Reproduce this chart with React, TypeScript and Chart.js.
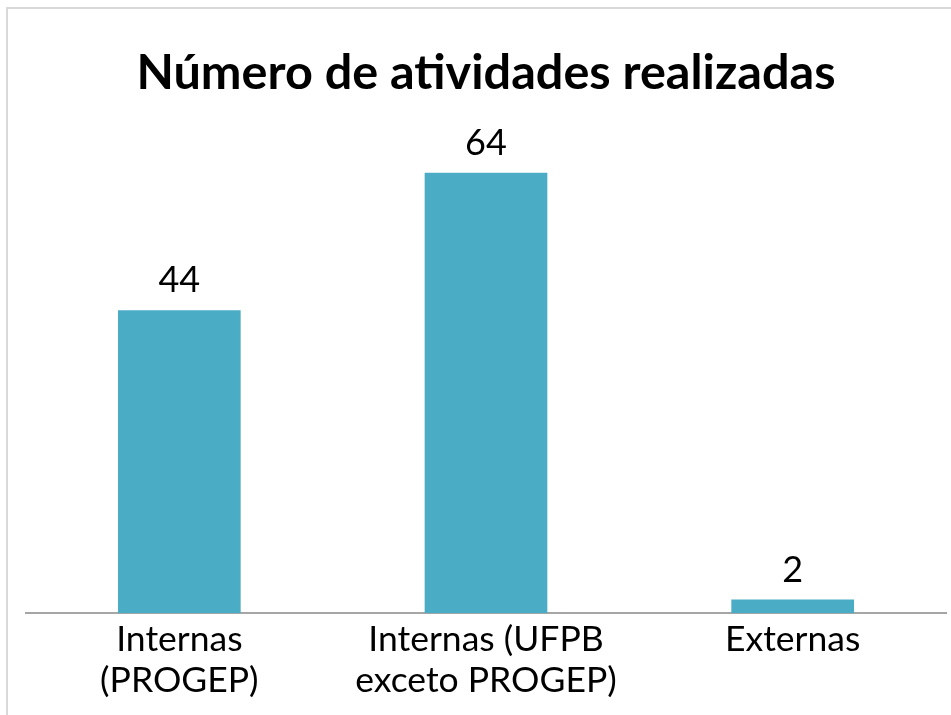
import React, { useEffect, useRef } from "react";
import { Chart, registerables } from "chart.js";

Chart.register(...registerables);

const categories: (string | string[])[] = [
  ["Internas", "(PROGEP)"],
  ["Internas (UFPB", "exceto PROGEP)"],
  "Externas",
];
const values: number[] = [44, 64, 2];
const titleText = "Número de atividades realizadas";
const yMin = 0;
const yMax = 70;

const FONT = "Lato";

const valueLabels = {
  id: "valueLabels",
  afterDatasetsDraw(chart: any) {
    const ctx = chart.ctx;
    const meta = chart.getDatasetMeta(0);
    ctx.save();
    ctx.font = `36px ${FONT}`;
    ctx.fillStyle = "#000";
    ctx.textAlign = "center";
    ctx.textBaseline = "alphabetic";
    meta.data.forEach((bar: any, i: number) => {
      ctx.fillText(String(values[i]), bar.x, bar.y - 18);
    });
    ctx.restore();
  },
};

export default function App() {
  const ref = useRef<HTMLCanvasElement | null>(null);
  useEffect(() => {
    document.body.style.margin = "0";
    document.body.style.overflow = "hidden";
    if (!ref.current) return;
    const chart = new Chart(ref.current, {
      type: "bar",
      data: {
        labels: categories,
        datasets: [
          {
            data: values,
            backgroundColor: "#4BACC6",
            borderWidth: 0,
            barPercentage: 0.4,
            categoryPercentage: 1,
          },
        ],
      },
      options: {
        animation: false,
        responsive: false,
        maintainAspectRatio: false,
        layout: { padding: { left: 26, right: 5, top: 0, bottom: 8 } },
        plugins: {
          legend: { display: false },
          tooltip: { enabled: false },
          title: {
            display: true,
            text: titleText,
            color: "#000",
            font: { family: FONT, size: 48.6, weight: "bold" },
            padding: { top: 44, bottom: 29 },
          },
        },
        scales: {
          y: { display: false, min: yMin, max: yMax },
          x: {
            grid: { display: false, drawTicks: false },
            border: { display: true, color: "#A6A6A6", width: 2 },
            ticks: {
              color: "#000",
              font: { family: FONT, size: 35.5, lineHeight: 1.15 },
              padding: 6,
              maxRotation: 0,
              autoSkip: false,
            },
          },
        },
      },
      plugins: [valueLabels],
    });
    return () => chart.destroy();
  }, []);
  return (
    <div style={{ position: "relative", width: 951, height: 715, overflow: "hidden", background: "#fff" }}>
      <div
        style={{
          position: "absolute",
          left: 6,
          top: 7,
          width: 1000,
          height: 800,
          border: "2px solid #D9D9D9",
        }}
      />
      <canvas ref={ref} width={951} height={715} style={{ position: "absolute", left: 0, top: 0 }} />
    </div>
  );
}
